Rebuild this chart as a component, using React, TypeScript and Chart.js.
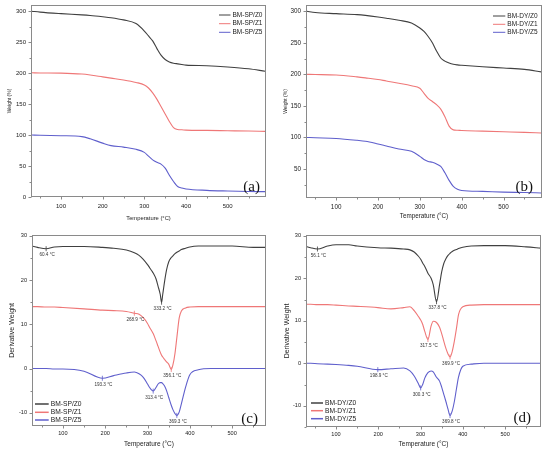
import React, { useEffect, useRef } from "react";
import { Chart, registerables } from "chart.js";

Chart.register(...registerables);

// ---------------- data ----------------
const tgaTemps = [30, 50, 100, 150, 170, 200, 220, 250, 280, 300, 310, 320, 330, 340, 350, 360, 370, 380, 390, 400, 450, 500, 550, 590];

const spZ0 = [300, 298.5, 296, 294, 293, 291, 289.5, 286, 280, 268, 260, 252, 240, 229, 222, 218, 216, 215, 214, 213, 212, 210, 207, 203];
const spZ1 = [200.5, 200.3, 200, 198.5, 197, 194, 192, 189, 185, 181, 176, 168, 158, 146, 134, 122, 112, 109, 108.5, 108, 107.5, 107, 106.5, 106];
const spZ5 = [100, 99.8, 99, 97.5, 94, 87, 83, 80.5, 77, 72, 66, 60, 56, 53, 46.5, 35, 25, 17, 14.5, 13, 10.7, 9.7, 9, 8.6];

const dyZ0 = [300, 298, 296.3, 294.7, 293.5, 291, 289, 285.7, 281.5, 273.6, 268, 260, 250, 237, 226, 221, 218, 216, 215, 214.4, 212, 210, 208, 204];
const dyZ1 = [200, 199.8, 199, 196, 194.5, 192, 189.5, 186, 182, 178, 170, 162, 157, 152, 145, 133, 118, 112, 111.5, 111, 110, 109, 108, 107];
const dyZ5 = [100, 99.5, 98.4, 95.5, 94, 89.7, 86.5, 81.7, 78, 70, 65, 62, 60.6, 58, 54, 44, 32, 22.5, 18, 16, 14.5, 13.3, 12.7, 12];

const dtgSpTemps = [27, 40, 60.4, 80, 100, 150, 193.3, 220, 250, 268.9, 280, 290, 300, 305, 310, 313.4, 320, 325, 330, 333.2, 336, 340, 345, 350, 356.1, 360, 365, 369.3, 375, 380, 390, 400, 420, 450, 500, 550, 580];
const dtgSpZ0 = [27.7, 27.4, 27.1, 27.5, 27.6, 27.6, 27.4, 27.2, 26.8, 26.2, 25.6, 24.7, 23.5, 22.8, 22.1, 21.6, 20.3, 18.6, 16.8, 15, 16.8, 19.5, 22.3, 24.1, 25.1, 25.5, 26, 26.3, 26.6, 26.9, 27.2, 27.5, 27.7, 27.7, 27.7, 27.4, 27.4];
const dtgSpZ1 = [14, 14, 13.9, 13.9, 13.8, 13.5, 13.2, 13.1, 12.9, 12.5, 12.3, 11.5, 10.2, 9.3, 8.5, 7.9, 6.3, 5, 3.7, 3, 2.6, 2.1, 1.5, 1, -0.2, 0.8, 3.5, 7, 11.5, 13, 13.7, 13.9, 14, 14, 14, 14, 14];
const dtgSpZ5 = [0, 0, 0, -0.1, -0.1, -0.6, -2.2, -1.6, -1, -0.8, -1.2, -2, -3.5, -4.3, -4.9, -5.1, -4.3, -3.5, -3.2, -3.2, -3.4, -3.9, -5, -6.5, -8.3, -9.3, -10.2, -10.6, -9.8, -8, -4.2, -1.4, -0.3, 0, 0, 0, 0];

const dtgDyTemps = [30, 40, 56.1, 80, 100, 130, 150, 198.9, 230, 260, 275, 285, 295, 300.3, 305, 310, 317.5, 325, 330, 337.8, 345, 350, 355, 360, 365, 369.8, 375, 380, 385, 390, 400, 420, 450, 500, 550, 585];
const dtgDyZ0 = [27.5, 27.2, 26.9, 27.6, 27.9, 27.9, 27.6, 27.2, 27.1, 26.9, 26.7, 26.2, 25.2, 24.5, 23.6, 22.8, 21.2, 20, 18.5, 14.5, 18.5, 21.5, 23.5, 24.6, 25.4, 25.9, 26.3, 26.6, 26.8, 27, 27.3, 27.6, 27.7, 27.7, 27.4, 27.1];
const dtgDyZ1 = [13.9, 13.9, 13.8, 13.8, 13.7, 13.5, 13.4, 13.1, 12.8, 13.1, 13.3, 12.4, 11, 10.2, 9.2, 7.5, 5.6, 8.8, 9.9, 9.6, 8.5, 7, 5.2, 3.5, 2.2, 1.5, 2.8, 5.2, 8.2, 11.5, 13.3, 13.7, 13.8, 13.8, 13.8, 13.8];
const dtgDyZ5 = [0, 0, -0.1, -0.2, -0.3, -0.5, -0.7, -1.5, -1.3, -1.1, -1.8, -3, -4.8, -5.8, -5, -3.5, -2.2, -1.8, -2, -3.3, -4.2, -5.6, -7.3, -9, -10.8, -12.3, -11.2, -9, -6, -3.2, -0.7, -0.2, 0, 0, 0, 0];

const spNames = ["BM-SP/Z0", "BM-SP/Z1", "BM-SP/Z5"];
const dyNames = ["BM-DY/Z0", "BM-DY/Z1", "BM-DY/Z5"];

const xMajorTicks = [100, 200, 300, 400, 500];
const xMinorTicks = [50, 150, 250, 350, 450, 550];
const tgaMajorTicks = [0, 50, 100, 150, 200, 250, 300];
const tgaMinorTicks = [25, 75, 125, 175, 225, 275];
const dtgMajorTicks = [-10, 0, 10, 20, 30];
const dtgMinorTicks = [-15, -5, 5, 15, 25];

type Note = { t: number; s: number; text: string };
const spNotes: Note[] = [
  { t: 60.4, s: 0, text: "60.4 °C" },
  { t: 333.2, s: 0, text: "333.2 °C" },
  { t: 268.9, s: 1, text: "268.9 °C" },
  { t: 356.1, s: 1, text: "356.1 °C" },
  { t: 193.3, s: 2, text: "193.3 °C" },
  { t: 313.4, s: 2, text: "313.4 °C" },
  { t: 369.3, s: 2, text: "369.3 °C" },
];
const dyNotes: Note[] = [
  { t: 56.1, s: 0, text: "56.1 °C" },
  { t: 337.8, s: 0, text: "337.8 °C" },
  { t: 317.5, s: 1, text: "317.5 °C" },
  { t: 369.8, s: 1, text: "369.9 °C" },
  { t: 198.9, s: 2, text: "198.9 °C" },
  { t: 300.3, s: 2, text: "300.3 °C" },
  { t: 369.8, s: 2, text: "369.8 °C" },
];

// ---------------- styles ----------------
const COLORS = ["#404040", "#ef7777", "#5f5fcc"];
const FRAME = "#8a8a8a";
const SANS = "'Liberation Sans', Arial, sans-serif";
const SERIF = "'Liberation Serif', 'Times New Roman', serif";
const W = 275;
const H = 228;

type Panel = {
  left: number;
  top: number;
  temps: number[];
  series: number[][];
  names: string[];
  xMin: number;
  xMax: number;
  yMin: number;
  yMax: number;
  yMajor: number[];
  yMinor: number[];
  yTitle: string;
  tag: string;
  notes: Note[];
  area: { l: number; r: number; t: number; b: number };
  tickFont: number;
  tickPadX: number;
  xTitleFont: number;
  xTitleOff: number;
  yTitleFont: number;
  yTitleX: number;
  legend: { corner: "tr" | "bl"; lineDx: number; textDx: number; rows: number[]; font: number; lw: number };
  tagDx: number;
  tagDy: number;
};

const panels: Panel[] = [
  {
    left: 0, top: 0, temps: tgaTemps, series: [spZ0, spZ1, spZ5], names: spNames,
    xMin: 28, xMax: 592, yMin: 0, yMax: 310, yMajor: tgaMajorTicks, yMinor: tgaMinorTicks,
    yTitle: "Weight (%)", tag: "(a)", notes: [],
    area: { l: 31, r: 266, t: 5, b: 197 },
    tickFont: 6, tickPadX: 6, xTitleFont: 5.8, xTitleOff: 10, yTitleFont: 5, yTitleX: 10,
    legend: { corner: "tr", lineDx: -47, textDx: -33.5, rows: [10, 18.7, 27.3], font: 6.5, lw: 1 },
    tagDx: -6, tagDy: -6,
  },
  {
    left: 275, top: 0, temps: tgaTemps, series: [dyZ0, dyZ1, dyZ5], names: dyNames,
    xMin: 28, xMax: 592, yMin: 4, yMax: 310, yMajor: tgaMajorTicks, yMinor: tgaMinorTicks,
    yTitle: "Weight (%)", tag: "(b)", notes: [],
    area: { l: 31, r: 267, t: 5, b: 198 },
    tickFont: 6.3, tickPadX: 5, xTitleFont: 6.3, xTitleOff: 12, yTitleFont: 5, yTitleX: 11,
    legend: { corner: "tr", lineDx: -49, textDx: -34.7, rows: [11, 19.3, 27.3], font: 6.5, lw: 1 },
    tagDx: -9, tagDy: -7,
  },
  {
    left: 0, top: 228, temps: dtgSpTemps, series: [dtgSpZ0, dtgSpZ1, dtgSpZ5], names: spNames,
    xMin: 27, xMax: 580, yMin: -13, yMax: 30.2, yMajor: dtgMajorTicks, yMinor: dtgMinorTicks,
    yTitle: "Derivative Weight", tag: "(c)", notes: spNotes,
    area: { l: 32, r: 266, t: 7, b: 198 },
    tickFont: 5.6, tickPadX: 4, xTitleFont: 6.5, xTitleOff: 11.7, yTitleFont: 7, yTitleX: 11.7,
    legend: { corner: "bl", lineDx: 3, textDx: 18.7, rows: [-22, -13.7, -6], font: 6.7, lw: 1.5 },
    tagDx: -8, tagDy: -3,
  },
  {
    left: 275, top: 228, temps: dtgDyTemps, series: [dtgDyZ0, dtgDyZ1, dtgDyZ5], names: dyNames,
    xMin: 29, xMax: 585, yMin: -15, yMax: 30.2, yMajor: dtgMajorTicks, yMinor: dtgMinorTicks,
    yTitle: "Derivative Weight", tag: "(d)", notes: dyNotes,
    area: { l: 31, r: 266, t: 7, b: 199 },
    tickFont: 5.6, tickPadX: 4, xTitleFont: 6.5, xTitleOff: 12, yTitleFont: 7, yTitleX: 12.2,
    legend: { corner: "bl", lineDx: 5, textDx: 19, rows: [-24, -16.3, -8.3], font: 6.7, lw: 1.5 },
    tagDx: -10, tagDy: -5,
  },
];

const decorPlugin = {
  id: "decor",
  afterDraw(chart: any, _args: any, opts: any) {
    const p: Panel = opts.panel;
    if (!p) return;
    const { ctx, chartArea: a, scales } = chart;
    const xs = scales.x;
    const ys = scales.y;
    ctx.save();
    // frame
    ctx.strokeStyle = FRAME;
    ctx.lineWidth = 1;
    ctx.strokeRect(Math.round(a.left) + 0.5, Math.round(a.top) + 0.5, Math.round(a.right - a.left) - 1, Math.round(a.bottom - a.top) - 1);
    // ticks
    const bottom = Math.round(a.bottom) - 0.5;
    const left = Math.round(a.left) + 0.5;
    ctx.beginPath();
    xMajorTicks.forEach((v) => {
      const px = Math.round(xs.getPixelForValue(v)) + 0.5;
      ctx.moveTo(px, bottom);
      ctx.lineTo(px, bottom + 3);
    });
    xMinorTicks.forEach((v) => {
      if (v < p.xMin || v > p.xMax) return;
      const px = Math.round(xs.getPixelForValue(v)) + 0.5;
      ctx.moveTo(px, bottom);
      ctx.lineTo(px, bottom + 2);
    });
    p.yMajor.forEach((v) => {
      if (v < p.yMin || v > p.yMax) return;
      const py = Math.round(ys.getPixelForValue(v)) + 0.5;
      ctx.moveTo(left, py);
      ctx.lineTo(left - 3, py);
    });
    p.yMinor.forEach((v) => {
      if (v < p.yMin || v > p.yMax) return;
      const py = Math.round(ys.getPixelForValue(v)) + 0.5;
      ctx.moveTo(left, py);
      ctx.lineTo(left - 2, py);
    });
    ctx.stroke();

    // annotations
    ctx.font = `4.6px ${SANS}`;
    ctx.textAlign = "center";
    ctx.textBaseline = "middle";
    p.notes.forEach((n) => {
      const idx = p.temps.indexOf(n.t);
      const v = p.series[n.s][idx];
      const px = xs.getPixelForValue(n.t);
      const py = ys.getPixelForValue(v);
      ctx.strokeStyle = COLORS[n.s];
      ctx.lineWidth = 0.8;
      ctx.beginPath();
      ctx.moveTo(px, py - 2.5);
      ctx.lineTo(px, py + 2.5);
      ctx.stroke();
      ctx.fillStyle = "#333";
      ctx.fillText(n.text, px + 1, py + 6.5);
    });

    // legend
    const lg = p.legend;
    const baseX = lg.corner === "tr" ? a.right : a.left;
    const baseY = lg.corner === "tr" ? a.top : a.bottom;
    ctx.font = `${lg.font}px ${SANS}`;
    ctx.textAlign = "left";
    ctx.textBaseline = "middle";
    p.names.forEach((name, i) => {
      const yy = baseY + lg.rows[i];
      ctx.strokeStyle = COLORS[i];
      ctx.lineWidth = lg.lw;
      ctx.beginPath();
      ctx.moveTo(baseX + lg.lineDx, yy);
      ctx.lineTo(baseX + lg.textDx - 2, yy);
      ctx.stroke();
      ctx.fillStyle = "#222";
      ctx.fillText(name, baseX + lg.textDx, yy);
    });

    // tag
    ctx.font = `15px ${SERIF}`;
    ctx.textAlign = "right";
    ctx.textBaseline = "alphabetic";
    ctx.fillStyle = "#111";
    ctx.fillText(p.tag, a.right + p.tagDx, a.bottom + p.tagDy);
    ctx.restore();
  },
};

function PanelChart({ p }: { p: Panel }) {
  const ref = useRef<HTMLCanvasElement | null>(null);
  useEffect(() => {
    if (!ref.current) return;
    const datasets = p.series.map((vals, i) => ({
      label: p.names[i],
      data: p.temps.map((t, j) => ({ x: t, y: vals[j] })),
      borderColor: COLORS[i],
      backgroundColor: COLORS[i],
      borderWidth: 1.1,
      pointRadius: 0,
      cubicInterpolationMode: "monotone" as const,
      fill: false,
    }));
    const chart = new Chart(ref.current, {
      type: "line",
      data: { datasets },
      plugins: [decorPlugin],
      options: {
        animation: false,
        responsive: false,
        maintainAspectRatio: false,
        events: [],
        layout: { padding: { top: p.area.t, right: W - p.area.r, left: 0, bottom: 0 } },
        plugins: {
          legend: { display: false },
          tooltip: { enabled: false },
          decor: { panel: p },
        } as any,
        scales: {
          x: {
            type: "linear",
            min: p.xMin,
            max: p.xMax,
            afterFit: (s: any) => {
              s.height = H - p.area.b;
              s.paddingLeft = 0;
              s.paddingRight = 0;
              s.paddingTop = 0;
              s.paddingBottom = 0;
            },
            afterBuildTicks: (s: any) => { s.ticks = xMajorTicks.map((v) => ({ value: v })); },
            grid: { display: false, drawTicks: false },
            border: { display: false },
            ticks: {
              font: { family: SANS, size: p.tickFont },
              color: "#222",
              padding: p.tickPadX,
              maxRotation: 0,
              autoSkip: false,
            },
            title: {
              display: true,
              text: "Temperature (°C)",
              font: { family: SANS, size: p.xTitleFont },
              color: "#222",
              padding: { top: 0, bottom: p.xTitleOff - (p.xTitleFont * 1.2) / 2 },
            },
          },
          y: {
            type: "linear",
            min: p.yMin,
            max: p.yMax,
            afterFit: (s: any) => {
              s.width = p.area.l;
              s.paddingTop = 0;
              s.paddingBottom = 0;
              s.paddingLeft = 0;
              s.paddingRight = 0;
            },
            afterBuildTicks: (s: any) => {
              s.ticks = p.yMajor.filter((v) => v >= p.yMin && v <= p.yMax).map((v) => ({ value: v }));
            },
            grid: { display: false, drawTicks: false },
            border: { display: false },
            ticks: {
              font: { family: SANS, size: p.tickFont },
              color: "#222",
              padding: 5,
              autoSkip: false,
            },
            title: {
              display: true,
              text: p.yTitle,
              font: { family: SANS, size: p.yTitleFont },
              color: "#222",
              padding: { top: p.yTitleX - (p.yTitleFont * 1.2) / 2, bottom: 0 },
            },
          },
        },
      },
    });
    return () => chart.destroy();
  }, [p]);
  return (
    <canvas
      ref={ref}
      width={W}
      height={H}
      style={{ position: "absolute", left: p.left, top: p.top, width: W, height: H }}
    />
  );
}

export default function App() {
  return (
    <div style={{ position: "fixed", left: 0, top: 0, width: 550, height: 456, background: "#fff", overflow: "hidden" }}>
      {panels.map((p, i) => (
        <PanelChart key={i} p={p} />
      ))}
    </div>
  );
}
